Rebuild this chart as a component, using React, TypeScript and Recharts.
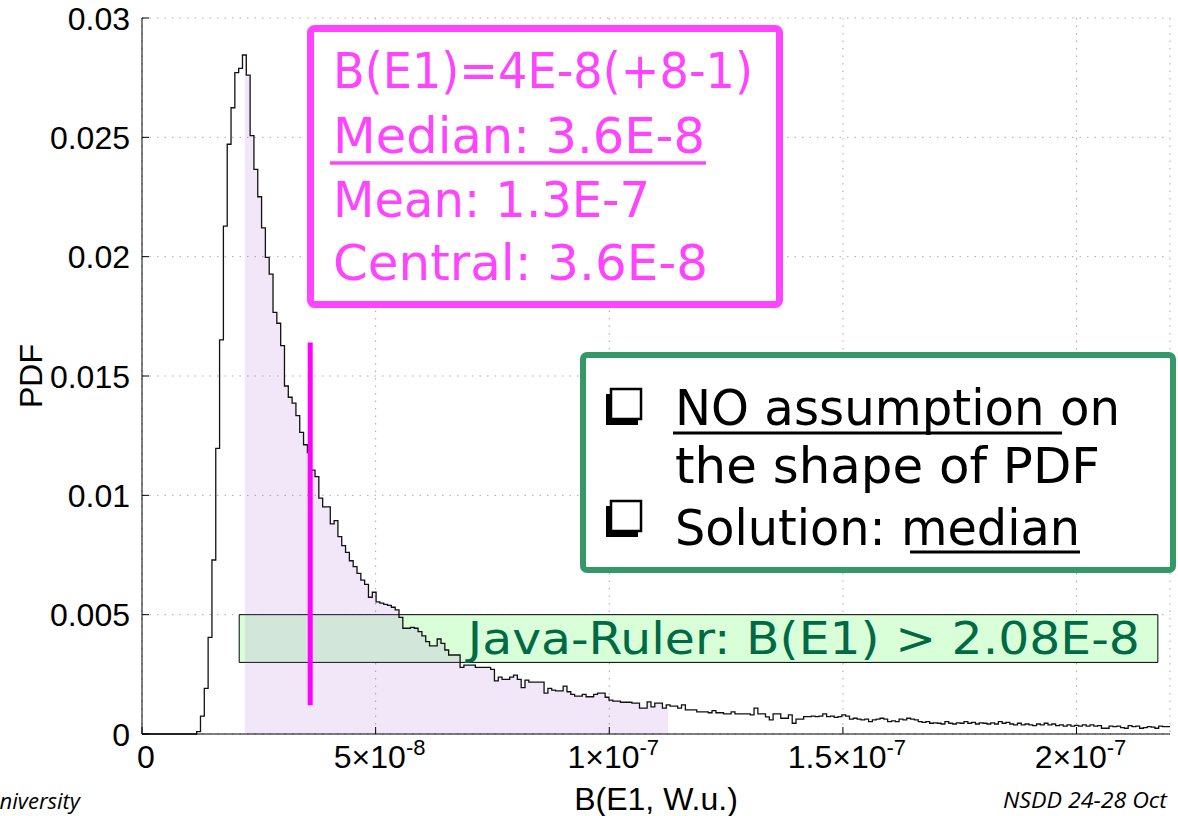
import React from 'react';
import {
  ComposedChart,
  Line,
  Area,
  XAxis,
  YAxis,
  CartesianGrid,
  ReferenceArea,
  ReferenceLine,
} from 'recharts';

// B(E1) is kept in units of 1e-8 W.u.; histogram bins
const firstBinEdge = 1.17;
const binWidth = 0.0817;
const pdfValues = [
  0.0001, 0.00075, 0.00191, 0.00405, 0.00729, 0.01197, 0.01651, 0.02128, 0.02471, 0.02624,
  0.02771, 0.02789, 0.02845, 0.02761, 0.02507, 0.02366, 0.02251, 0.02121, 0.01997, 0.01927,
  0.01767, 0.01721, 0.01627, 0.01458, 0.01411, 0.01386, 0.01334, 0.01264, 0.01212, 0.01179,
  0.01106, 0.01078, 0.00988, 0.00952, 0.00952, 0.0088, 0.00894, 0.00827, 0.00789, 0.00761,
  0.00726, 0.00701, 0.00673, 0.00645, 0.00627, 0.00573, 0.00594, 0.00554, 0.00548, 0.00543,
  0.00539, 0.00531, 0.0052, 0.00489, 0.00443, 0.00443, 0.00447, 0.00443, 0.00429, 0.00411,
  0.00387, 0.00369, 0.00369, 0.00398, 0.0038, 0.00352, 0.00331, 0.00331, 0.00331, 0.00279,
  0.00289, 0.00289, 0.00289, 0.00279, 0.00279, 0.00279, 0.00279, 0.00271, 0.00223, 0.00238,
  0.00229, 0.00229, 0.00238, 0.00247, 0.00229, 0.00194, 0.00226, 0.00217, 0.00217, 0.00217,
  0.00217, 0.00171, 0.00191, 0.00184, 0.00181, 0.00181, 0.00201, 0.00177, 0.00166, 0.00159,
  0.00159, 0.00166, 0.00156, 0.00156, 0.00166, 0.00171, 0.00171, 0.00154, 0.00142, 0.00138,
  0.00138, 0.00133, 0.00133, 0.00133, 0.00129, 0.00129, 0.00108, 0.00108, 0.00135, 0.00114,
  0.00129, 0.00129, 0.00108, 0.00122, 0.00117, 0.00117, 0.00108, 0.00122, 0.00101, 0.00101,
  0.00101, 0.00093, 0.00093, 0.00093, 0.00089, 0.00098, 0.00089, 0.00089, 0.00084, 0.00084,
  0.00093, 0.00084, 0.00084, 0.00084, 0.00084, 0.0008, 0.00108, 0.00084, 0.00084, 0.00072,
  0.00059, 0.00084, 0.00084, 0.00066, 0.00066, 0.0008, 0.00045, 0.00062, 0.00062, 0.00073,
  0.00073, 0.00075, 0.00073, 0.00075, 0.00084, 0.00073, 0.00075, 0.0007, 0.00073, 0.0008,
  0.00075, 0.00062, 0.00066, 0.00062, 0.00059, 0.00062, 0.00052, 0.00059, 0.00062, 0.00066,
  0.00062, 0.00052, 0.00055, 0.00052, 0.00062, 0.00059, 0.00066, 0.00062, 0.00059, 0.00052,
  0.00049, 0.00052, 0.00045, 0.00047, 0.00045, 0.00042, 0.00052, 0.00045, 0.00042, 0.00047,
  0.00045, 0.00052, 0.00045, 0.00049, 0.00042, 0.00047, 0.00045, 0.00042, 0.00047, 0.00042,
  0.00052, 0.00045, 0.00049, 0.00042, 0.00038, 0.00045, 0.00038, 0.00042, 0.00038, 0.00035,
  0.00042, 0.00038, 0.00045, 0.00038, 0.00042, 0.00035, 0.00038, 0.00033, 0.00038, 0.00033,
  0.00036, 0.00033, 0.00038, 0.00033, 0.00038, 0.00033, 0.00035, 0.00024, 0.00024, 0.00033,
  0.00031, 0.00033, 0.00027, 0.00024, 0.00035, 0.00031, 0.00033, 0.00024, 0.00027, 0.00031,
  0.00029, 0.00024, 0.00033, 0.00031, 0.00031,
];

const xMax = 22;
const xTicks = [0, 5, 10, 15, 20];
const xTickBase = ['0', '5×10', '1×10', '1.5×10', '2×10'];
const xTickExp = ['', '-8', '-7', '-7', '-7'];
const yTicks = [0, 0.005, 0.01, 0.015, 0.02, 0.025, 0.03];
const yTickLabels = ['0', '0.005', '0.01', '0.015', '0.02', '0.025', '0.03'];

const shadeRange = [2.2, 11.26];
const median = 3.6;
const medianSpan = [0.0012, 0.0164];
const javaRulerX = [2.08, 21.74];
const javaRulerY = [0.003, 0.005];

const valueAt = (x: number) => {
  let v = 0;
  pdfValues.forEach((p, i) => {
    if (firstBinEdge + i * binWidth <= x) v = p;
  });
  return v;
};

const rawRows = [
  { x: 0, pdf: 0 },
  ...pdfValues.map((pdf, i) => ({ x: firstBinEdge + i * binWidth, pdf })),
  { x: xMax, pdf: pdfValues[pdfValues.length - 1] },
  ...shadeRange.map((x) => ({ x, pdf: valueAt(x) })),
].sort((a, b) => a.x - b.x);

const rows = rawRows.map((r) => ({
  ...r,
  shade: r.x >= shadeRange[0] && r.x <= shadeRange[1] ? r.pdf : null,
}));

const axisFont = 'Liberation Sans, Arial, sans-serif';
const noteFont = 'DejaVu Sans, sans-serif';
const pink = '#ff44ff';

const XTick = ({ x, y, payload }: any) => {
  const i = xTicks.indexOf(payload.value);
  return (
    <text x={x + 4} y={y + 34} textAnchor="middle" fontFamily={axisFont} fontSize={32} fill="#000">
      {xTickBase[i]}
      {xTickExp[i] ? (
        <tspan dy={-13} fontSize={22}>
          {xTickExp[i]}
        </tspan>
      ) : null}
    </text>
  );
};

const YTick = ({ x, y, payload }: any) => (
  <text x={x} y={y} dy="0.36em" textAnchor="end" fontFamily={axisFont} fontSize={32} fill="#000">
    {yTickLabels[yTicks.indexOf(payload.value)]}
  </text>
);

const Bullet = ({ y }: { y: number }) => (
  <g>
    <rect x={606} y={y + 5} width={32} height={31} fill="#000" />
    <rect x={611} y={y} width={30} height={30} fill="#fff" stroke="#000" strokeWidth={2.5} />
  </g>
);

const Notes = () => (
  <svg
    width={1178}
    height={816}
    style={{ position: 'absolute', left: 0, top: 0, pointerEvents: 'none' }}
  >
    <rect x={310.5} y={28.5} width={469} height={276} rx={4} fill="#fff" stroke={pink} strokeWidth={7} />
    <g fontFamily={noteFont} fontSize={50} fill={pink}>
      <text x={333} y={88} textLength={420} lengthAdjust="spacingAndGlyphs">B(E1)=4E-8(+8-1)</text>
      <text x={333} y={153} textLength={372} lengthAdjust="spacingAndGlyphs">Median: 3.6E-8</text>
      <text x={333} y={217} textLength={317} lengthAdjust="spacingAndGlyphs">Mean: 1.3E-7</text>
      <text x={333} y={280} textLength={375} lengthAdjust="spacingAndGlyphs">Central: 3.6E-8</text>
    </g>
    <line x1={330} x2={706} y1={163} y2={163} stroke={pink} strokeWidth={3.5} />

    <rect x={583} y={355} width={590} height={215} rx={4} fill="#fff" stroke="#339966" strokeWidth={6} />
    <Bullet y={389} />
    <Bullet y={501} />
    <g fontFamily={noteFont} fontSize={50} fill="#000">
      <text x={675} y={425} textLength={445} lengthAdjust="spacingAndGlyphs">NO assumption on</text>
      <text x={675} y={483} textLength={425} lengthAdjust="spacingAndGlyphs">the shape of PDF</text>
      <text x={675} y={545} textLength={405} lengthAdjust="spacingAndGlyphs">Solution: median</text>
    </g>
    <line x1={673} x2={1062} y1={433} y2={433} stroke="#000" strokeWidth={3} />
    <line x1={910} x2={1080} y1={552} y2={552} stroke="#000" strokeWidth={3} />

    <g fontFamily="Open Sans, sans-serif" fontStyle="italic" fontSize={22} fill="#000">
      <text x={80} y={809} textAnchor="end">University</text>
      <text x={1003} y={808} textLength={164} lengthAdjust="spacingAndGlyphs">NSDD 24-28 Oct</text>
    </g>
  </svg>
);

export default function App() {
  return (
    <div style={{ position: 'absolute', left: 0, top: 0, width: 1178, height: 816, background: '#fff' }}>
      <ComposedChart width={1178} height={816} data={rows} margin={{ top: 18, right: 8, bottom: 0, left: 0 }}>
        <CartesianGrid stroke="#aaa" strokeDasharray="1.5 6" />
        <XAxis
          type="number"
          dataKey="x"
          domain={[0, xMax]}
          ticks={xTicks}
          height={82}
          tickSize={-7}
          tickMargin={7}
          tick={<XTick />}
          axisLine={{ stroke: '#000' }}
          tickLine={{ stroke: '#000' }}
          label={{
            content: ({ viewBox }: any) => (
              <text
                x={viewBox.x + viewBox.width / 2}
                y={viewBox.y + viewBox.height - 6}
                textAnchor="middle"
                fontFamily={axisFont}
                fontSize={32}
                fill="#000"
              >
                B(E1, W.u.)
              </text>
            ),
          }}
        />
        <XAxis
          xAxisId="top"
          orientation="top"
          type="number"
          dataKey="x"
          domain={[0, xMax]}
          ticks={xTicks}
          height={0}
          tickSize={-7}
          tick={false}
          axisLine={{ stroke: '#222', strokeWidth: 2 }}
          tickLine={{ stroke: '#000' }}
        />
        <YAxis
          type="number"
          domain={[0, 0.03]}
          ticks={yTicks}
          width={142}
          tickSize={-7}
          tickMargin={19}
          tick={<YTick />}
          axisLine={{ stroke: '#000' }}
          tickLine={{ stroke: '#000' }}
          label={{
            content: ({ viewBox }: any) => (
              <text
                transform={`translate(30, ${viewBox.y + viewBox.height / 2}) rotate(-90)`}
                textAnchor="middle"
                dy="0.36em"
                fontFamily={axisFont}
                fontSize={32}
                fill="#000"
              >
                PDF
              </text>
            ),
          }}
        />
        <YAxis
          yAxisId="right"
          orientation="right"
          type="number"
          domain={[0, 0.03]}
          ticks={yTicks}
          width={0}
          tickSize={-7}
          tick={false}
          axisLine={{ stroke: '#000' }}
          tickLine={{ stroke: '#000' }}
        />
        <ReferenceArea
          x1={javaRulerX[0]}
          x2={javaRulerX[1]}
          y1={javaRulerY[0]}
          y2={javaRulerY[1]}
          fill="#d9ffd9"
          fillOpacity={1}
          stroke="#000"
          strokeWidth={1}
          label={{
            content: ({ viewBox }: any) => (
              <text
                x={viewBox.x + viewBox.width - 18}
                y={viewBox.y + viewBox.height - 8}
                textAnchor="end"
                fontFamily={noteFont}
                fontSize={44}
                fill="#006a45"
                textLength={672}
                lengthAdjust="spacingAndGlyphs"
              >
                Java-Ruler: B(E1) &gt; 2.08E-8
              </text>
            ),
          }}
        />
        <Area
          dataKey="shade"
          type="stepAfter"
          fill="#ae64d9"
          fillOpacity={0.16}
          stroke="none"
          baseValue={0}
          isAnimationActive={false}
        />
        <Line
          dataKey="pdf"
          type="stepAfter"
          stroke="#111"
          strokeWidth={1.3}
          dot={false}
          isAnimationActive={false}
        />
        <ReferenceLine
          segment={[
            { x: median, y: medianSpan[0] },
            { x: median, y: medianSpan[1] },
          ]}
          stroke="#ff00ff"
          strokeWidth={5}
        />
      </ComposedChart>
      <Notes />
    </div>
  );
}
